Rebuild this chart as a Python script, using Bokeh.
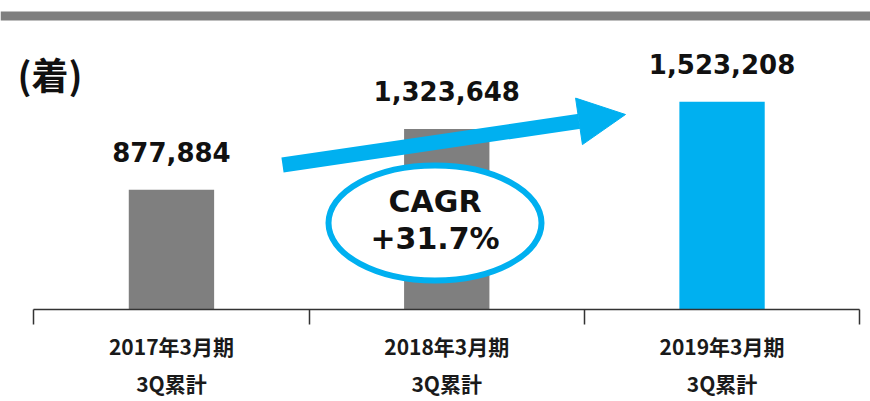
from bokeh.plotting import figure
from bokeh.models import (Range1d, FixedTicker, LinearAxis, Arrow, NormalHead,
                          Label, BoxAnnotation, ColumnDataSource)
from bokeh.core.properties import value
from bokeh.embed import file_html
from bokeh.resources import INLINE

# ---- data ----
periods = ["2017年3月期", "2018年3月期", "2019年3月期"]
period_sub = ["3Q累計", "3Q累計", "3Q累計"]
units_sold = [877884, 1323648, 1523208]
value_labels = ["877,884", "1,323,648", "1,523,208"]
bar_colors = ["#7F7F7F", "#7F7F7F", "#00B0F0"]
unit_label = "(着)"
cagr_title = "CAGR"
cagr_value = "+31.7%"

# ---- layout constants (pixels) ----
W, H = 870, 401
FRAME_BOTTOM = 92
X0_PX = 33.3
STEP_PX = 275.3
Y_PER_PX = 7330.0
frame_h = H - FRAME_BOTTOM

BLUE = "#00B0F0"
INK = "#111111"
LABEL_INK = "#1a1a1a"


def dx(px):
    return (px - X0_PX) / STEP_PX


def dy(py):
    return (frame_h - py) * Y_PER_PX


centers = [i + 0.5 for i in range(len(periods))]
bounds = [float(i) for i in range(len(periods) + 1)]
src = ColumnDataSource(dict(x=centers, v=units_sold, lbl=value_labels, c=bar_colors))

p = figure(width=W, height=H,
           x_range=Range1d(dx(0), dx(W)), y_range=Range1d(0, dy(0)),
           output_backend="svg", toolbar_location=None, y_axis_location=None,
           min_border_left=0, min_border_right=0, min_border_top=0,
           min_border_bottom=FRAME_BOTTOM, outline_line_color=None)
p.grid.visible = False

# decorative band at the top
p.add_layout(BoxAnnotation(top=dy(11), bottom=dy(20), fill_color="#7F7F7F",
                           fill_alpha=1.0, line_color=None))

p.vbar(x="x", top="v", width=0.31, color="c", line_color=None, source=src)

p.text(x="x", y="v", text="lbl", source=src, text_align="center",
       text_baseline="middle", y_offset=-38,
       text_font=value("DejaVu Sans"), text_font_style="bold",
       text_font_size="26px", text_color=INK)

# CAGR ellipse
ex, ey = dx(434.5), dy(222.5)
p.ellipse(x=[ex], y=[ey], width=213, height=115, width_units="screen",
          height_units="screen", fill_color="white", line_color=BLUE,
          line_width=6)
p.text(x=[ex], y=[ey], text=[cagr_title], y_offset=-21.5, text_align="center",
       text_baseline="middle", text_font=value("DejaVu Sans"),
       text_font_style="bold", text_font_size="30px", text_color=INK)
p.text(x=[ex], y=[ey], text=[cagr_value], y_offset=15, text_align="center",
       text_baseline="middle", text_font=value("DejaVu Sans"),
       text_font_style="bold", text_font_size="30px", text_color=INK)

# growth arrow
p.add_layout(Arrow(x_start=dx(282), y_start=dy(164.5), x_end=dx(625), y_end=dy(114),
                   line_width=15, line_color=BLUE, line_cap="butt",
                   end=NormalHead(size=47, fill_color=BLUE, line_color=BLUE, line_width=1)))

# unit label
p.add_layout(Label(x=dx(49.5), y=dy(73), text=unit_label, text_align="center",
                   text_baseline="middle", text_font="Noto Sans CJK JP",
                   text_font_style="bold", text_font_size="37px", text_color=INK))

# main axis: labels at bar centres, boundary ticks as minor ticks
ax0 = p.xaxis[0]
ax0.axis_label = None
ax0.ticker = FixedTicker(ticks=centers, minor_ticks=bounds)
ax0.bounds = (bounds[0], bounds[-1])
ax0.major_label_overrides = {c: t for c, t in zip(centers, periods)}
ax0.major_tick_out = 0
ax0.major_tick_in = 0
ax0.major_tick_line_color = None
ax0.minor_tick_out = 15
ax0.minor_tick_in = 0
ax0.minor_tick_line_color = "#333333"
ax0.minor_tick_line_width = 1.5
ax0.axis_line_color = "#333333"
ax0.axis_line_width = 1.5
ax0.major_label_standoff = 6
ax0.major_label_text_font = "Noto Sans CJK JP"
ax0.major_label_text_font_size = "21px"
ax0.major_label_text_font_style = "bold"
ax0.major_label_text_color = LABEL_INK

# second line of the category labels
ax1 = LinearAxis(ticker=FixedTicker(ticks=centers),
                 major_label_overrides={c: t for c, t in zip(centers, period_sub)},
                 axis_line_color=None, major_tick_line_color=None,
                 minor_tick_line_color=None, major_tick_out=0, major_tick_in=0,
                 minor_tick_out=0, minor_tick_in=0,
                 major_label_standoff=4,
                 major_label_text_font="Noto Sans CJK JP",
                 major_label_text_font_size="21px",
                 major_label_text_font_style="bold",
                 major_label_text_color=LABEL_INK)
p.add_layout(ax1, "below")

open("out.html", "w").write(file_html(p, INLINE))
